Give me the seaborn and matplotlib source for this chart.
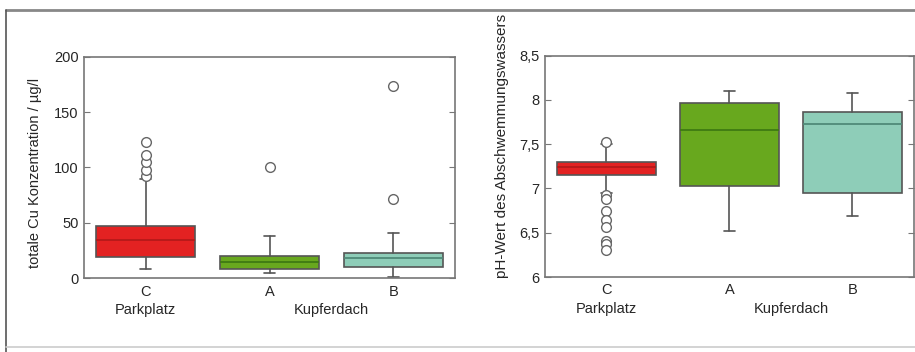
import numpy as np
import matplotlib
matplotlib.use('Agg')
import matplotlib.pyplot as plt
from matplotlib.lines import Line2D
from matplotlib.transforms import blended_transform_factory
import seaborn as sns

sns.set_style('white')
plt.rcParams['font.family'] = ['Liberation Sans', 'DejaVu Sans']

# groups (left to right)
groups = ['C', 'A', 'B']
sites = ['Parkplatz', 'Kupferdach']

# copper concentration, µg/l  (whislo, q1, median, q3, whishi)
cu_whislo = [8, 4.5, 1.5]
cu_q1 = [19, 8.5, 10.5]
cu_med = [35, 14.5, 18]
cu_q3 = [47.5, 20.5, 22.5]
cu_whishi = [90, 38.5, 40.5]
cu_fliers = [[92, 98, 105, 111, 123], [100.5], [72, 174]]

# pH of runoff water
ph_whislo = [6.95, 6.52, 6.69]
ph_q1 = [7.15, 7.03, 6.95]
ph_med = [7.24, 7.66, 7.73]
ph_q3 = [7.30, 7.97, 7.86]
ph_whishi = [7.50, 8.10, 8.08]
ph_fliers = [[7.53, 6.93, 6.88, 6.75, 6.64, 6.56, 6.41, 6.37, 6.31], [], []]

fills = ['#e32222', '#68a81e', '#8ecdb8']
medians = ['#b51a1a', '#3f7a12', '#4f8a78']
edge = '#555555'
spine_c = '#777777'


def make_stats(lo, q1, med, q3, hi, fl):
    return [dict(whislo=lo[i], q1=q1[i], med=med[i], q3=q3[i], whishi=hi[i],
                 fliers=fl[i], label=groups[i]) for i in range(len(groups))]


def draw_panel(ax, stats, ylim, yticks, yticklabels, ylabel_text):
    bp = ax.bxp(stats, positions=range(len(groups)), widths=0.8, patch_artist=True,
                showfliers=True,
                boxprops=dict(edgecolor=edge, linewidth=1.2),
                whiskerprops=dict(color=edge, linewidth=1.2),
                capprops=dict(color=edge, linewidth=1.2),
                capwidths=0.09,
                flierprops=dict(marker='o', markerfacecolor='white',
                                markeredgecolor='#666666', markersize=7, markeredgewidth=1.0))
    for patch, fc in zip(bp['boxes'], fills):
        patch.set_facecolor(fc)
    for line, mc in zip(bp['medians'], medians):
        line.set_color(mc)
        line.set_linewidth(1.3)
    ax.set_xlim(-0.5, 2.5)
    ax.set_ylim(*ylim)
    ax.set_yticks(yticks)
    ax.set_yticklabels(yticklabels)
    ax.set_xticks([0.5, 1.5])
    ax.set_xticklabels([])
    ax.tick_params(axis='x', direction='in', length=3, color=spine_c)
    ax.tick_params(axis='y', direction='in', length=4, color=spine_c, right=True, left=True,
                   labelsize=10.5, pad=4)
    for s in ax.spines.values():
        s.set_color(spine_c)
        s.set_linewidth(1.2)
    tr = blended_transform_factory(ax.transData, ax.transAxes)
    for i, g in enumerate(groups):
        ax.text(i, -0.06, g, transform=tr, ha='center', va='center', fontsize=10.5)
    ax.text(0, -0.145, sites[0], transform=tr, ha='center', va='center', fontsize=10.5)
    ax.text(1.5, -0.145, sites[1], transform=tr, ha='center', va='center', fontsize=10.5)


fig = plt.figure(figsize=(9.15, 3.52), dpi=100)
ax1 = fig.add_axes([0.0918, 0.2094, 0.4055, 0.6295])
ax2 = fig.add_axes([0.5956, 0.2130, 0.4033, 0.6288])

draw_panel(ax1, make_stats(cu_whislo, cu_q1, cu_med, cu_q3, cu_whishi, cu_fliers),
           (0, 200), [0, 50, 100, 150, 200], ['0', '50', '100', '150', '200'], None)
draw_panel(ax2, make_stats(ph_whislo, ph_q1, ph_med, ph_q3, ph_whishi, ph_fliers),
           (6, 8.5), [6, 6.5, 7, 7.5, 8, 8.5], ['6', '6,5', '7', '7,5', '8', '8,5'], None)

fig.text(0.038, 0.51, 'totale Cu Konzentration / µg/l', rotation=90,
         ha='center', va='center', fontsize=10.5)
fig.text(0.549, 0.585, 'pH-Wert des Abschwemmungswassers', rotation=90,
         ha='center', va='center', fontsize=11)

# outer frame
fig.add_artist(Line2D([0.007, 1.0], [0.972, 0.972], color='#888888', linewidth=2))
fig.add_artist(Line2D([0.007, 0.007], [0.0, 0.972], color='#555555', linewidth=1.2))
fig.add_artist(Line2D([0.007, 1.0], [0.014, 0.014], color='#cccccc', linewidth=1.2))

fig.savefig('out.png', dpi=100)
